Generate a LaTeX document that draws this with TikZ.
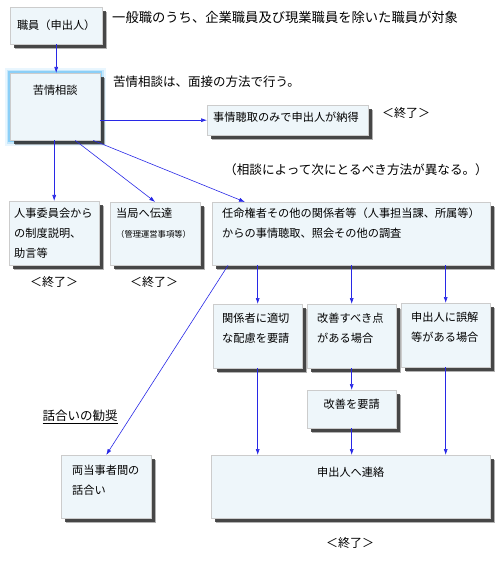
\documentclass[tikz,border=0pt]{standalone}
\usepackage{fontspec}
\setmainfont{Noto Sans CJK JP}
\usetikzlibrary{arrows.meta,shadows}

\definecolor{boxfill}{RGB}{238,246,250}
\definecolor{arrowblue}{RGB}{40,40,230}
\definecolor{glowblue}{RGB}{110,195,245}
\newcommand\memofont{\fontsize{11.2}{20}\selectfont}
\newcommand\smallfont{\fontsize{8.3}{20}\selectfont}

\tikzset{
  memo/.style={draw=gray!40, line width=.4pt, fill=boxfill,
    drop shadow={shadow xshift=5pt, shadow yshift=-5pt, fill=black, opacity=.3},
    drop shadow={shadow xshift=3.5pt, shadow yshift=-3.5pt, fill=black!80, opacity=.85},
    anchor=north west, inner ysep=0pt, align=left, font=\memofont},
  glow/.style={preaction={draw=glowblue!15, line width=11pt, rounded corners=6pt},
    preaction={draw=glowblue!40, line width=7pt, rounded corners=4pt},
    preaction={draw=glowblue!80, line width=3.5pt, rounded corners=2pt}},
  flow/.style={draw=arrowblue, line width=.6pt, -{Latex[length=6pt,width=4pt]}},
  note/.style={inner sep=0pt, font=\fontsize{#1}{16}\selectfont},
  note/.default=13.3
}

\begin{document}
\begin{tikzpicture}[x=1pt,y=-1pt]
  \useasboundingbox (0,0) rectangle (500,561);

  % boxes
  \node[memo,align=center,inner xsep=3pt,text width=86pt,text height=22pt,text depth=15pt] (shokuin) at (10,7) {職員（申出人）};
  \node[glow,memo,align=center,inner xsep=3pt,text width=84pt,text height=21pt,text depth=46pt] (soudan) at (10,73) {苦情相談};
  \node[memo,inner xsep=6pt,text width=149pt,text height=16pt,text depth=14pt] (jijou) at (207,105) {事情聴取のみで申出人が納得};
  \node[memo,inner xsep=5pt,text width=80pt,text height=16pt,text depth=48pt] (jinji) at (9,201) {人事委員会から\\の制度説明、\\助言等};
  \node[memo,inner xsep=6pt,text width=78pt,text height=15pt,text depth=48pt] (toukyoku) at (110,202) {当局へ伝達\\{\smallfont（管理運営事項等）}};
  \node[memo,inner xsep=10pt,text width=258pt,text height=15pt,text depth=48pt] (ninmei) at (212,202) {任命権者その他の関係者等（人事担当課、所属等）\\からの事情聴取、照会その他の調査};
  \node[memo,inner xsep=9pt,text width=71pt,text height=18pt,text depth=46pt] (hairyo) at (213,304) {関係者に適切\\な配慮を要請};
  \node[memo,inner xsep=10pt,text width=69pt,text height=18pt,text depth=46pt] (kaizen) at (307,304) {改善すべき点\\がある場合};
  \node[memo,inner xsep=10pt,text width=69pt,text height=18pt,text depth=46pt] (gokai) at (401,303) {申出人に誤解\\等がある場合};
  \node[memo,align=center,inner xsep=5pt,text width=79pt,text height=18pt,text depth=20pt] (yousei) at (307,390) {改善を要請};
  \node[memo,align=center,inner xsep=5pt,text width=269pt,text height=21pt,text depth=42pt] (renraku) at (211,455) {申出人へ連絡};
  \node[memo,inner xsep=11pt,text width=68pt,text height=19pt,text depth=44pt] (hanashi) at (61,455) {両当事者間の\\話合い};

  % notes
  \node[note,anchor=west] (taisho) at (112,17) {一般職のうち、企業職員及び現業職員を除いた職員が対象};
  \node[note=12.5,anchor=west] (mensetsu) at (113,82) {苦情相談は、面接の方法で行う。};
  \node[note=12.6,anchor=east] (houhou) at (488,170) {（相談によって次にとるべき方法が異なる。）};
  \node[note=12] (end1) at (406,113) {＜終了＞};
  \node[note=12] (end2) at (54,282) {＜終了＞};
  \node[note=12] (end3) at (154,282) {＜終了＞};
  \node[note=12] (end4) at (350,543) {＜終了＞};
  \node[note=12.5] (kansho) at (80,417) {\underline{話合いの勧奨}};

  % arrows
  \draw[flow] (shokuin.south) -- (shokuin.south |- soudan.north);
  \draw[flow] (soudan.east |- jijou.west) -- (jijou.west);
  \draw[flow] (jinji.north |- soudan.south) -- (jinji.north);
  \draw[flow] ([xshift=20pt]soudan.south) -- (toukyoku.north);
  \draw[flow] ([xshift=38pt]soudan.south) -- ([xshift=33pt]ninmei.north west);
  \draw[flow] ([xshift=16pt]ninmei.south west) -- (hanashi.north);
  \foreach \b in {hairyo,kaizen,gokai}
    \draw[flow] (\b.north |- ninmei.south) -- (\b.north);
  \draw[flow] (kaizen.south) -- (yousei.north);
  \draw[flow] (yousei.south) -- (yousei.south |- renraku.north);
  \draw[flow] (hairyo.south) -- (hairyo.south |- renraku.north);
  \draw[flow] (gokai.south) -- (gokai.south |- renraku.north);
\end{tikzpicture}
\end{document}
